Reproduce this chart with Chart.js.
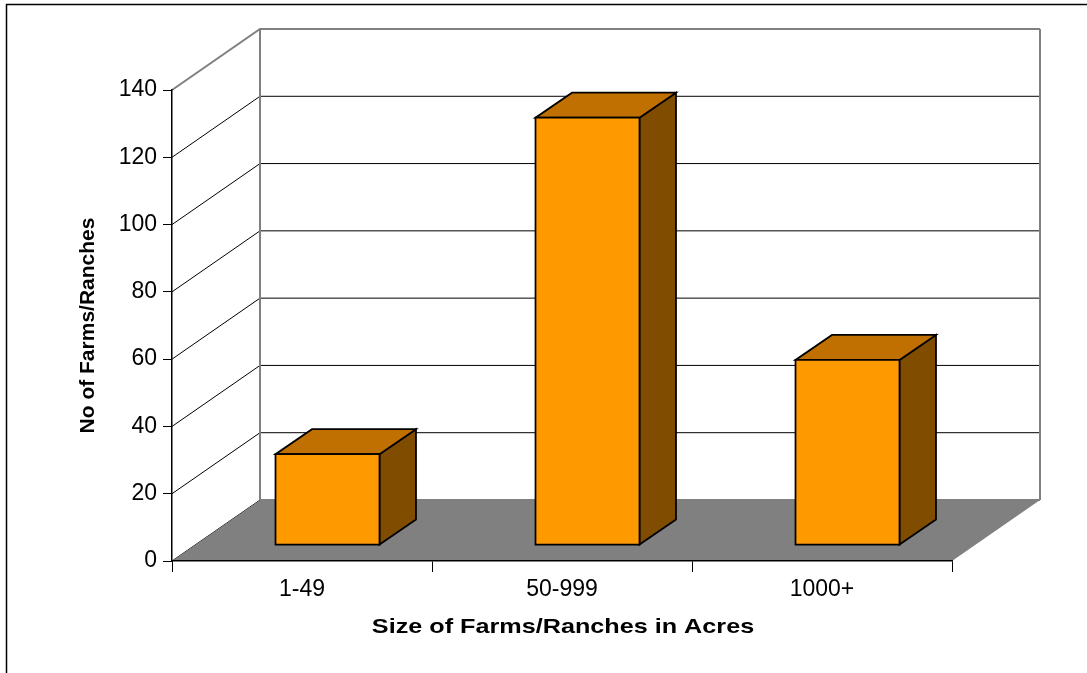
<!DOCTYPE html>
<html><head><meta charset="utf-8">
<script src="https://cdn.jsdelivr.net/npm/chart.js@4/dist/chart.umd.min.js"></script>
<style>html,body{margin:0;padding:0;background:#fff;overflow:hidden}#wrap{width:1087px;height:673px;position:relative}</style>
</head><body><div id="wrap"><canvas id="c" width="1087" height="673"></canvas></div>
<script>
const categories = ['1-49', '50-999', '1000+'];
const farmCounts = [27, 127, 55];
const yTickValues = [0, 20, 40, 60, 80, 100, 120, 140];
const xTitle = 'Size of Farms/Ranches in Acres';
const yTitle = 'No of Farms/Ranches';

const FONT = "'Liberation Sans', Arial, sans-serif";
const WALL = { dx: 88, dy: -61 };
const BAR_FRONT = { dx: 25.5, dy: -16 };
const BAR_DEPTH = { dx: 36.5, dy: -25 };

function poly(ctx, pts, fill) {
  ctx.beginPath();
  ctx.moveTo(pts[0][0], pts[0][1]);
  for (let i = 1; i < pts.length; i++) ctx.lineTo(pts[i][0], pts[i][1]);
  ctx.closePath();
  ctx.fillStyle = fill;
  ctx.fill();
  ctx.stroke();
}

const threeD = {
  id: 'threeD',
  beforeDraw(chart) {
    const ctx = chart.ctx;
    const { left, right, top, bottom } = chart.chartArea;
    const ys = chart.scales.y;
    ctx.save();
    ctx.fillStyle = '#fff';
    ctx.fillRect(0, 0, chart.width, chart.height);
    ctx.strokeStyle = '#000';
    ctx.lineWidth = 1.5;
    ctx.beginPath();
    ctx.moveTo(6.5, chart.height + 5);
    ctx.lineTo(6.5, 4.5);
    ctx.lineTo(chart.width + 5, 4.5);
    ctx.stroke();
    yTickValues.forEach(v => {
      const y = ys.getPixelForValue(v);
      const isTop = v === ys.max;
      ctx.strokeStyle = isTop ? '#808080' : '#000';
      ctx.lineWidth = isTop ? 2 : 1;
      ctx.beginPath();
      ctx.moveTo(left, y);
      ctx.lineTo(left + WALL.dx, y + WALL.dy);
      ctx.lineTo(right + WALL.dx, y + WALL.dy);
      ctx.stroke();
    });
    ctx.strokeStyle = '#808080';
    ctx.lineWidth = 2;
    ctx.beginPath();
    ctx.moveTo(left + WALL.dx, top + WALL.dy);
    ctx.lineTo(left + WALL.dx, bottom + WALL.dy);
    ctx.moveTo(right + WALL.dx, top + WALL.dy);
    ctx.lineTo(right + WALL.dx, bottom + WALL.dy);
    ctx.stroke();
    ctx.fillStyle = '#808080';
    ctx.beginPath();
    ctx.moveTo(left, bottom);
    ctx.lineTo(right, bottom);
    ctx.lineTo(right + WALL.dx, bottom + WALL.dy);
    ctx.lineTo(left + WALL.dx, bottom + WALL.dy);
    ctx.closePath();
    ctx.fill();
    ctx.restore();
  },
  afterDatasetsDraw(chart) {
    const ctx = chart.ctx;
    const meta = chart.getDatasetMeta(0);
    ctx.save();
    ctx.lineJoin = 'miter';
    ctx.lineWidth = 1.75;
    ctx.strokeStyle = '#000';
    meta.data.forEach(bar => {
      const { x, y, base, width } = bar.getProps(['x', 'y', 'base', 'width'], true);
      const l = x - width / 2 + BAR_FRONT.dx, r = x + width / 2 + BAR_FRONT.dx;
      const t = y + BAR_FRONT.dy, b = base + BAR_FRONT.dy;
      const dx = BAR_DEPTH.dx, dy = BAR_DEPTH.dy;
      poly(ctx, [[r, t], [r + dx, t + dy], [r + dx, b + dy], [r, b]], '#804C00');
      poly(ctx, [[l, t], [r, t], [r + dx, t + dy], [l + dx, t + dy]], '#C07000');
      poly(ctx, [[l, t], [r, t], [r, b], [l, b]], '#FF9900');
    });
    ctx.restore();
  },
  afterDraw(chart) {
    const ctx = chart.ctx;
    ctx.save();
    ctx.font = 'bold 21px ' + FONT;
    ctx.fillStyle = '#000';
    ctx.textAlign = 'center';
    ctx.textBaseline = 'alphabetic';
    ctx.translate(563, 633);
    ctx.scale(1.2, 1);
    ctx.fillText(xTitle, 0, 0);
    ctx.restore();
  }
};

new Chart(document.getElementById('c'), {
  type: 'bar',
  data: {
    labels: categories,
    datasets: [{
      label: 'No of Farms/Ranches',
      data: farmCounts,
      backgroundColor: 'rgba(0,0,0,0)',
      borderWidth: 0,
      barPercentage: 0.4,
      categoryPercentage: 1
    }]
  },
  options: {
    responsive: false,
    animation: false,
    devicePixelRatio: 1,
    layout: { padding: { top: 90, right: 135, left: 0, bottom: 0 } },
    plugins: { legend: { display: false }, tooltip: { enabled: false } },
    scales: {
      x: {
        afterFit(scale) { scale.height = 112; },
        grid: { offset: true, drawOnChartArea: false, drawTicks: true, tickLength: 11, color: '#000', lineWidth: 1 },
        border: { display: true, color: '#000', width: 1.5 },
        ticks: { color: '#000', font: { family: FONT, size: 23 }, padding: 4 },
        title: { display: false, text: xTitle }
      },
      y: {
        min: 0, max: 140,
        afterFit(scale) { scale.width = 172; },
        afterBuildTicks(scale) { scale.ticks = yTickValues.map(v => ({ value: v })); },
        grid: { drawOnChartArea: false, drawTicks: true, tickLength: 9, color: '#000', lineWidth: 1 },
        border: { display: true, color: '#000', width: 1.5 },
        ticks: { color: '#000', font: { family: FONT, size: 23 }, padding: 6 },
        title: { display: true, text: yTitle, color: '#000', font: { family: FONT, size: 21, weight: 'bold' }, padding: { top: 76, bottom: 0 } }
      }
    }
  },
  plugins: [threeD]
});
</script>
</body></html>
